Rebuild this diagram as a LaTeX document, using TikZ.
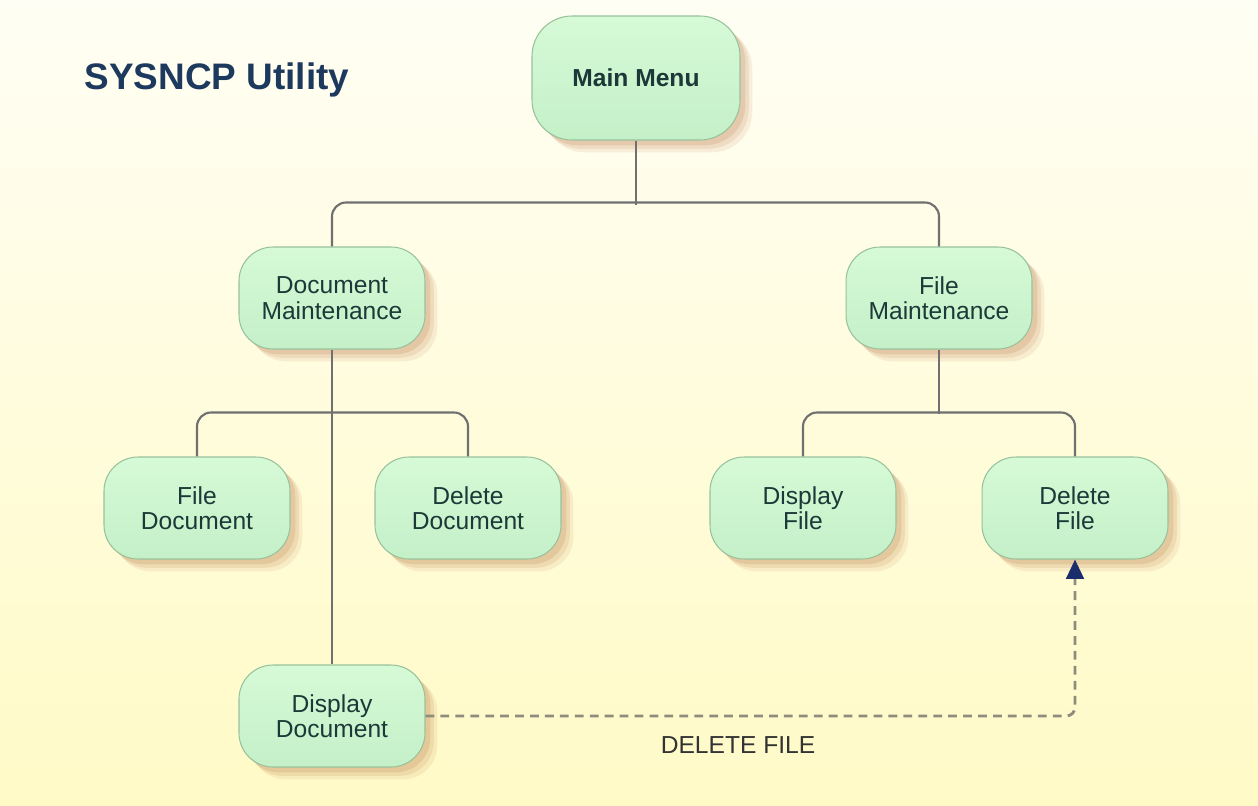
\documentclass[tikz,border=0pt]{standalone}
\usepackage{fontspec}
\setmainfont{Liberation Sans}
\usetikzlibrary{shadows,arrows.meta}

\definecolor{paperTop}{HTML}{FFFEF4}
\definecolor{paperBot}{HTML}{FFFAC6}
\definecolor{boxTop}{HTML}{D6FAD6}
\definecolor{boxBot}{HTML}{C4F0C8}
\definecolor{boxLine}{HTML}{98C29C}
\definecolor{boxText}{HTML}{1C3838}
\definecolor{titleBlue}{HTML}{1D3A5E}
\definecolor{wire}{HTML}{707070}
\definecolor{jumpWire}{HTML}{8E8C7C}
\definecolor{tipBlue}{HTML}{1A2E6C}
\definecolor{shade}{HTML}{C08050}

\begin{document}
\begin{tikzpicture}[x=0.02cm,y=-0.02cm,
  soft shadow/.style={
    drop shadow={shadow xshift=7pt, shadow yshift=-7pt, fill=shade, opacity=.12},
    drop shadow={shadow xshift=5pt, shadow yshift=-5pt, fill=shade, opacity=.15},
    drop shadow={shadow xshift=3pt, shadow yshift=-3pt, fill=shade, opacity=.2}},
  box/.style={draw=boxLine, line width=0.6pt, top color=boxTop, bottom color=boxBot,
    rounded corners=0.68cm, minimum width=3.72cm, minimum height=2.04cm,
    align=center, text=boxText, font=\fontsize{14}{14.5}\selectfont, soft shadow},
  main box/.style={box, minimum width=4.16cm, minimum height=2.48cm,
    rounded corners=0.8cm, font=\fontsize{14}{14.5}\selectfont\bfseries},
  conn/.style={draw=wire, line width=1.2pt, rounded corners=8pt},
  jump/.style={draw=jumpWire, line width=1.6pt, dash pattern=on 5pt off 3.5pt,
    rounded corners=5pt, -{Triangle[length=11pt,width=10pt,color=tipBlue,fill=tipBlue]}}]

  % paper
  \shade[top color=paperTop, bottom color=paperBot] (0,0) rectangle (1258,805);
  \useasboundingbox (0,0) rectangle (1258,805);

  \node[text=titleBlue, font=\fontsize{21}{24}\selectfont\bfseries] (title) at (217,80) {SYSNCP Utility};

  % menus
  \node[main box] (mm) at (636,78) {Main Menu};
  \node[box] (dm) at (332,298) {Document\\Maintenance};
  \node[box] (fm) at (939,298) {File\\Maintenance};

  \node[box] (fd) at (197,508) {File\\Document};
  \node[box] (dld) at (468,508) {Delete\\Document};
  \node[box] (dpf) at (803,508) {Display\\File};
  \node[box] (dlf) at (1075,508) {Delete\\File};

  \node[box] (dd) at (332,716) {Display\\Document};

  % tree
  \draw[conn] (mm.south) -- ++(0,64);
  \draw[conn] (dm.north) -- ++(0,-44) -| (fm.north);
  \draw[conn] (dm.south) -- (dd.north);
  \draw[conn] (fd.north) -- ++(0,-44) -| (dld.north);
  \draw[conn] (fm.south) -- ++(0,64);
  \draw[conn] (dpf.north) -- ++(0,-44) -| (dlf.north);

  % jump
  \draw[jump] (dd.east) -| (dlf.south);
  \node[text=black!80, font=\fontsize{14}{16}\selectfont] (jumplabel) at (738,745) {DELETE FILE};

\end{tikzpicture}
\end{document}
